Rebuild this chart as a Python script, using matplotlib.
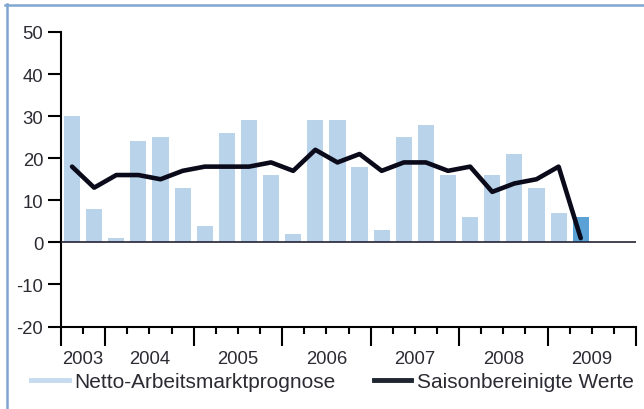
import numpy as np
import matplotlib
matplotlib.use('Agg')
import matplotlib.pyplot as plt
from matplotlib.lines import Line2D

plt.rcParams['font.family'] = ['Liberation Sans', 'DejaVu Sans']
plt.rcParams['axes.unicode_minus'] = False

# Quartalswerte Q3/2003 bis Q1/2009
prognose = [30, 8, 1, 24, 25, 13, 4, 26, 29, 16, 2, 29, 29, 18,
            3, 25, 28, 16, 6, 16, 21, 13, 7, 6]
saison = [18, 13, 16, 16, 15, 17, 18, 18, 18, 19, 17, 22, 19, 21,
          17, 19, 19, 17, 18, 12, 14, 15, 18, 1]
jahre = ['2003', '2004', '2005', '2006', '2007', '2008', '2009']
quartale_pro_jahr = [2, 4, 4, 4, 4, 4, 4]  # 2003 beginnt im 3. Quartal
y_ticks = [-20, -10, 0, 10, 20, 30, 40, 50]

hell = '#b8d3ea'
dunkel = '#5aa2d5'
linie = '#0a0a1a'
text_farbe = '#2b2b33'

fig = plt.figure(figsize=(6.44, 4.10), dpi=100)
ax = fig.add_axes([61 / 644, 1 - 327.5 / 410, 575 / 644, 294.5 / 410])

n = len(prognose)
x = np.arange(n) + 0.5
farben = [hell] * (n - 1) + [dunkel]
ax.bar(x, prognose, width=0.73, color=farben, zorder=2)
ax.axhline(0, color='#222233', lw=1.2, zorder=3)
ax.plot(x, saison, color=linie, lw=3.3, solid_joinstyle='round',
        solid_capstyle='round', zorder=4)

n_slots = sum(quartale_pro_jahr)
ax.set_xlim(0, n_slots)
ax.set_ylim(-20, 50)

grenzen = np.concatenate([[0], np.cumsum(quartale_pro_jahr)])
ax.set_xticks(grenzen)
ax.set_xticks(np.arange(n_slots + 1), minor=True)
ax.set_xticklabels([])
ax.tick_params(axis='x', which='major', length=13.7, width=1.5, color='black')
ax.tick_params(axis='x', which='minor', length=5, width=1.5, color='black')

ax.set_yticks(y_ticks)
ax.tick_params(axis='y', length=9.4, width=1.5, pad=3.4,
               labelsize=13.3, labelcolor=text_farbe)

for s in ['top', 'right']:
    ax.spines[s].set_visible(False)
for s in ['left', 'bottom']:
    ax.spines[s].set_linewidth(1.5)

mitten = (grenzen[:-1] + grenzen[1:]) / 2
for m, j in zip(mitten, jahre):
    ax.annotate(j, xy=(m, -20), xytext=(0, -26.3), textcoords='offset points',
                ha='center', va='baseline', fontsize=13.3, color=text_farbe,
                annotation_clip=False)

handles = [Line2D([], [], color='#c6dbef', lw=3.5),
           Line2D([], [], color='#1e2530', lw=3.5)]
fig.legend(handles, ['Netto-Arbeitsmarktprognose', 'Saisonbereinigte Werte'],
           loc='center left', bbox_to_anchor=(31 / 644, 1 - 383 / 410),
           ncol=2, frameon=False, fontsize=15, handlelength=1.8,
           handletextpad=0.3, columnspacing=1.8, borderpad=0,
           borderaxespad=0, labelcolor=text_farbe)

# heller Rahmen oben und links
rahmen = '#7fa5d0'
fig.add_artist(Line2D([5 / 644, 1], [1 - 6 / 410, 1 - 6 / 410],
                      color=rahmen, lw=1.8, transform=fig.transFigure))
fig.add_artist(Line2D([7 / 644, 7 / 644], [0, 1 - 5 / 410],
                      color=rahmen, lw=1.8, transform=fig.transFigure))

fig.savefig('out.png', dpi=100)
